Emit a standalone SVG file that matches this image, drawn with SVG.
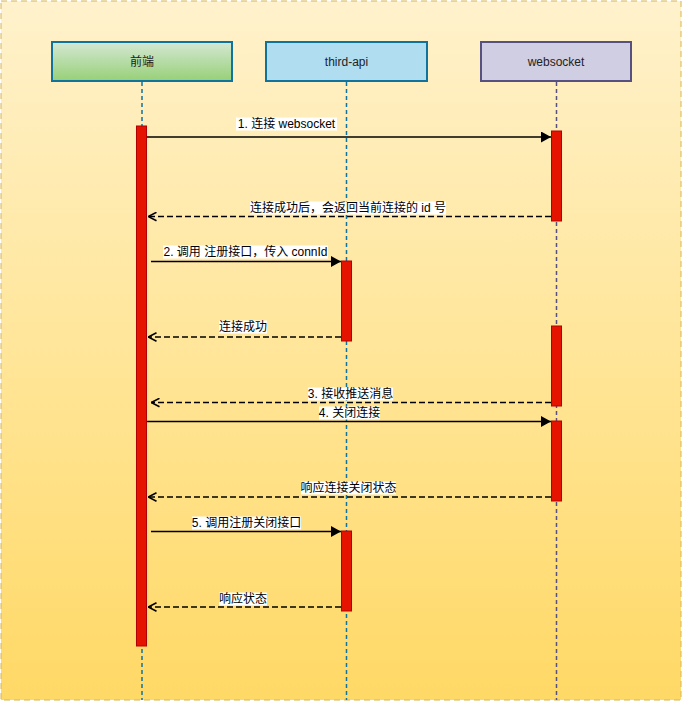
<svg xmlns="http://www.w3.org/2000/svg" width="682" height="702" viewBox="0 0 682 702">
<defs>
<linearGradient id="bg" x1="0" y1="0" x2="0" y2="1">
<stop offset="0" stop-color="#fff2cc"/>
<stop offset="1" stop-color="#ffd966"/>
</linearGradient>
<linearGradient id="green" x1="0" y1="0" x2="0" y2="1">
<stop offset="0" stop-color="#d5e8d4"/>
<stop offset="1" stop-color="#97d077"/>
</linearGradient>
<marker id="block" viewBox="0 0 10 10" refX="10" refY="5" markerWidth="10" markerHeight="11" markerUnits="userSpaceOnUse" orient="auto" preserveAspectRatio="none">
<path d="M0,0 L10,5 L0,10 Z" fill="#000"/>
</marker>
<marker id="open" viewBox="0 0 10 10" refX="9.5" refY="5" markerWidth="10" markerHeight="10" markerUnits="userSpaceOnUse" orient="auto">
<path d="M1,0.8 L9.3,5 L1,9.2" fill="none" stroke="#000" stroke-width="1.6"/>
</marker>
<style>
.lbl{font-family:"Liberation Sans","Noto Sans CJK SC",sans-serif;font-size:12px;fill:#000;text-anchor:middle;dominant-baseline:central}
.head{font-family:"Liberation Sans","Noto Sans CJK SC",sans-serif;font-size:12px;fill:#222;text-anchor:middle;dominant-baseline:central}
.lbg{fill:#fff}
.life{fill:none;stroke-width:1.5;stroke-dasharray:4 3}
.bar{fill:#e51400;stroke:#b20000;stroke-width:1}
.msg{fill:none;stroke:#000;stroke-width:1.5;marker-end:url(#block)}
.ret{fill:none;stroke:#000;stroke-width:1.5;stroke-dasharray:6 3;marker-end:url(#open)}
</style>
</defs>
<rect x="1" y="1" width="680" height="699" fill="url(#bg)" stroke="#d6b656" stroke-width="1" stroke-dasharray="6 4"/>

<g id="lifelines">
<line class="life" x1="142" y1="82" x2="142" y2="700" stroke="#10739e"/>
<line class="life" x1="346.5" y1="82" x2="346.5" y2="700" stroke="#10739e"/>
<line class="life" x1="556.5" y1="82" x2="556.5" y2="700" stroke="#56517e"/>
</g>

<g id="node-frontend">
<rect x="52" y="42" width="180" height="39" fill="url(#green)" stroke="#10739e" stroke-width="2"/>
<text class="head" x="142" y="62">前端</text>
</g>
<g id="node-third-api">
<rect x="266" y="42" width="161" height="39" fill="#b1ddf0" stroke="#10739e" stroke-width="2"/>
<text class="head" x="346.5" y="62">third-api</text>
</g>
<g id="node-websocket">
<rect x="481" y="42" width="150" height="39" fill="#d0cee2" stroke="#56517e" stroke-width="2"/>
<text class="head" x="556" y="62">websocket</text>
</g>

<g id="activations">
<rect class="bar" x="136.5" y="126" width="10" height="520"/>
<rect class="bar" x="551.5" y="131" width="10" height="90"/>
<rect class="bar" x="341.5" y="261" width="10" height="80"/>
<rect class="bar" x="551.5" y="326" width="10" height="80"/>
<rect class="bar" x="551.5" y="421" width="10" height="80"/>
<rect class="bar" x="341.5" y="531" width="10" height="80"/>
</g>

<g id="connectors">
<line class="msg" x1="147" y1="137" x2="551" y2="137"/>
<line class="ret" x1="551" y1="216.5" x2="148" y2="216.5"/>
<line class="msg" x1="151" y1="261.5" x2="341" y2="261.5"/>
<line class="ret" x1="341" y1="337" x2="148" y2="337"/>
<line class="ret" x1="551" y1="402.5" x2="151" y2="402.5"/>
<line class="msg" x1="147" y1="421.5" x2="551" y2="421.5"/>
<line class="ret" x1="551" y1="497" x2="148" y2="497"/>
<line class="msg" x1="151" y1="531.5" x2="341" y2="531.5"/>
<line class="ret" x1="341" y1="607" x2="148" y2="607"/>
</g>

<g id="labels">
<rect class="lbg" x="236" y="117.5" width="101" height="13"/>
<text class="lbl" x="286.5" y="124">1. 连接 websocket</text>
<rect class="lbg" x="250" y="201.5" width="196" height="13"/>
<text class="lbl" x="348" y="208">连接成功后，会返回当前连接的 id 号</text>
<rect class="lbg" x="163" y="245.5" width="165" height="13"/>
<text class="lbl" x="245.5" y="252">2. 调用 注册接口，传入 connId</text>
<rect class="lbg" x="219" y="320.5" width="48" height="13"/>
<text class="lbl" x="243" y="327">连接成功</text>
<rect class="lbg" x="308" y="387.5" width="85" height="13"/>
<text class="lbl" x="350.5" y="394">3. 接收推送消息</text>
<rect class="lbg" x="319" y="406.5" width="61" height="13"/>
<text class="lbl" x="349.5" y="413">4. 关闭连接</text>
<rect class="lbg" x="301" y="481.5" width="95" height="13"/>
<text class="lbl" x="348.5" y="488">响应连接关闭状态</text>
<rect class="lbg" x="192" y="516.5" width="109" height="13"/>
<text class="lbl" x="246.5" y="523">5. 调用注册关闭接口</text>
<rect class="lbg" x="219" y="592.5" width="48" height="13"/>
<text class="lbl" x="243" y="599">响应状态</text>
</g>
</svg>
